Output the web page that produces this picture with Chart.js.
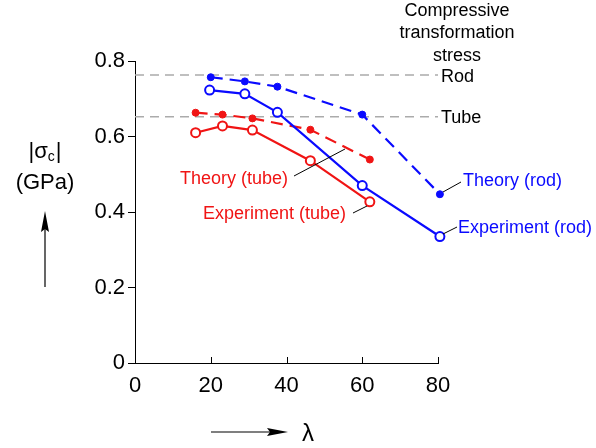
<!DOCTYPE html>
<html>
<head>
<meta charset="utf-8">
<script src="https://cdn.jsdelivr.net/npm/chart.js@4.4.0/dist/chart.umd.min.js"></script>
<style>
html,body{margin:0;padding:0;background:#fff;}
#c{display:block;}
</style>
</head>
<body>
<canvas id="c" width="596" height="448"></canvas>
<script>
// ---- data ----
const xTicks = [0, 20, 40, 60, 80];
const yTicks = [0, 0.2, 0.4, 0.6, 0.8];

const rodTheoryX = [20, 29, 37.6, 60, 80.5];
const rodTheoryY = [0.757, 0.746, 0.732, 0.658, 0.447];

const rodExpX = [19.7, 29, 37.6, 60, 80.5];
const rodExpY = [0.723, 0.713, 0.664, 0.470, 0.335];

const tubeTheoryX = [16, 23.1, 31, 46.3, 62];
const tubeTheoryY = [0.663, 0.658, 0.648, 0.618, 0.539];

const tubeExpX = [16, 23.1, 31, 46.3, 62];
const tubeExpY = [0.610, 0.628, 0.617, 0.536, 0.427];

const refX = [0, 80];
const rodStress = 0.763;
const tubeStress = 0.652;

const BLUE = '#0a0aff';
const RED = '#f01414';
const FONT = '"Liberation Sans", Arial, Helvetica, sans-serif';

function pts(xs, ys) { return xs.map((x, i) => ({x: x, y: ys[i]})); }

const annot = {
  id: 'annot',
  afterDraw(chart) {
    const ctx = chart.ctx;
    const xs = chart.scales.x, ys = chart.scales.y;
    ctx.save();
    // inward x ticks
    ctx.strokeStyle = '#000';
    ctx.lineWidth = 1;
    const yb = ys.getPixelForValue(0);
    xTicks.forEach(v => {
      const px = Math.round(xs.getPixelForValue(v)) + 0.5;
      ctx.beginPath(); ctx.moveTo(px, yb); ctx.lineTo(px, yb - 6); ctx.stroke();
    });

    // texts
    ctx.textBaseline = 'alphabetic';
    ctx.fillStyle = '#000';
    ctx.font = '18px ' + FONT;
    ctx.textAlign = 'center';
    ctx.fillText('Compressive', 457, 16);
    ctx.fillText('transformation', 457, 38);
    ctx.fillText('stress', 457, 61);
    ctx.textAlign = 'left';
    ctx.font = '18px ' + FONT;
    ctx.fillText('Rod', 441, 82);
    ctx.fillText('Tube', 441, 123);

    ctx.fillStyle = BLUE;
    ctx.fillText('Theory (rod)', 463, 186);
    ctx.fillText('Experiment (rod)', 458, 233);
    ctx.fillStyle = RED;
    ctx.fillText('Theory (tube)', 180, 184);
    ctx.fillText('Experiment (tube)', 203, 219);

    // leader lines
    ctx.strokeStyle = '#000';
    ctx.lineWidth = 1;
    const seg = (a, b, c, d) => { ctx.beginPath(); ctx.moveTo(a, b); ctx.lineTo(c, d); ctx.stroke(); };
    seg(294, 176, 345, 149);
    seg(353, 213, 367, 206);
    seg(443, 192, 461, 182);
    seg(443, 234, 457, 227);

    // y title |σc|
    ctx.fillStyle = '#000';
    ctx.font = '22px ' + FONT;
    const bar = '|', sig = 'σ';
    const wBar = ctx.measureText(bar).width, wSig = ctx.measureText(sig).width;
    ctx.font = '14px ' + FONT;
    const wC = ctx.measureText('c').width;
    const total = wBar * 2 + wSig + wC + 1;
    let x0 = 45 - total / 2;
    ctx.font = '22px ' + FONT;
    ctx.textAlign = 'left';
    ctx.fillText(bar, x0, 158); x0 += wBar;
    ctx.fillText(sig, x0, 158); x0 += wSig;
    ctx.font = '14px ' + FONT;
    ctx.fillText('c', x0, 161); x0 += wC + 1;
    ctx.font = '22px ' + FONT;
    ctx.fillText(bar, x0, 158);
    ctx.textAlign = 'center';
    ctx.fillText('(GPa)', 45, 189);

    // up arrow
    ctx.lineWidth = 1.2;
    seg(45, 287, 45, 225);
    ctx.beginPath(); ctx.moveTo(45, 211); ctx.lineTo(49, 232); ctx.lineTo(45, 229); ctx.lineTo(41, 232); ctx.closePath(); ctx.fill();
    // right arrow
    seg(211, 432, 272, 432);
    ctx.beginPath(); ctx.moveTo(288, 432); ctx.lineTo(267, 428); ctx.lineTo(270, 432); ctx.lineTo(267, 436); ctx.closePath(); ctx.fill();
    ctx.font = '24px ' + FONT;
    ctx.textAlign = 'center';
    ctx.fillText('λ', 308, 441);
    ctx.restore();
  }
};

new Chart(document.getElementById('c'), {
  type: 'scatter',
  data: {
    datasets: [
      { data: pts(refX, [rodStress, rodStress]), showLine: true, borderColor: '#ababab', borderWidth: 1.5, borderDash: [9, 6], pointRadius: 0, order: 10 },
      { data: pts(refX, [tubeStress, tubeStress]), showLine: true, borderColor: '#ababab', borderWidth: 1.5, borderDash: [9, 6], pointRadius: 0, order: 10 },
      { data: pts(rodTheoryX, rodTheoryY), showLine: true, borderColor: BLUE, borderWidth: 2.2, borderDash: [12, 7], pointRadius: 3.5, pointBackgroundColor: BLUE, pointBorderColor: BLUE, pointBorderWidth: 1, order: 2 },
      { data: pts(rodExpX, rodExpY), showLine: true, borderColor: BLUE, borderWidth: 2.2, pointRadius: 4.5, pointBackgroundColor: '#fff', pointBorderColor: BLUE, pointBorderWidth: 2, order: 1 },
      { data: pts(tubeTheoryX, tubeTheoryY), showLine: true, borderColor: RED, borderWidth: 2.2, borderDash: [12, 7], pointRadius: 3.5, pointBackgroundColor: RED, pointBorderColor: RED, pointBorderWidth: 1, order: 2 },
      { data: pts(tubeExpX, tubeExpY), showLine: true, borderColor: RED, borderWidth: 2.2, pointRadius: 4.5, pointBackgroundColor: '#fff', pointBorderColor: RED, pointBorderWidth: 2, order: 1 }
    ]
  },
  options: {
    responsive: false,
    devicePixelRatio: 1,
    animation: false,
    clip: false,
    layout: { padding: { left: 0, right: 158, top: 61, bottom: 0 } },
    plugins: { legend: { display: false }, tooltip: { enabled: false } },
    scales: {
      x: {
        type: 'linear', min: 0, max: 80,
        afterFit: s => { s.height = 85; },
        afterBuildTicks: s => { s.ticks = xTicks.map(v => ({value: v})); },
        ticks: { font: { size: 22, family: FONT }, color: '#000', padding: 10, maxRotation: 0 },
        grid: { drawOnChartArea: false, drawTicks: false },
        border: { color: '#000', width: 1 }
      },
      y: {
        type: 'linear', min: 0, max: 0.8,
        afterFit: s => { s.width = 135; },
        afterBuildTicks: s => { s.ticks = yTicks.map(v => ({value: v})); },
        ticks: { font: { size: 22, family: FONT }, color: '#000', padding: 3, callback: v => String(Math.round(v * 10) / 10) },
        grid: { drawOnChartArea: false, drawTicks: true, tickLength: 7, color: '#000' },
        border: { color: '#000', width: 1 }
      }
    }
  },
  plugins: [annot]
});
</script>
</body>
</html>
